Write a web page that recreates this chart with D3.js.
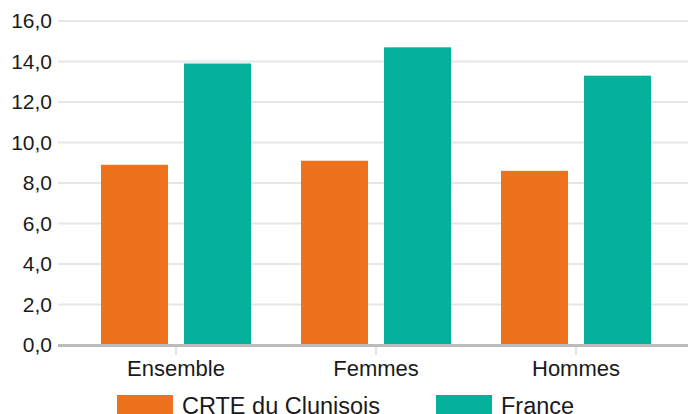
<!DOCTYPE html>
<html>
<head>
<meta charset="utf-8">
<script src="https://cdn.jsdelivr.net/npm/d3@7"></script>
<style>
  body { margin: 0; background: #fff; }
  svg text { font-family: "Liberation Sans", Arial, Helvetica, sans-serif; fill: #1a1a1a; }
</style>
</head>
<body>
<div id="chart"></div>
<script>
// data
var categories = ["Ensemble", "Femmes", "Hommes"];
var seriesNames = ["CRTE du Clunisois", "France"];
var crteValues = [8.9, 9.1, 8.6];
var franceValues = [13.9, 14.7, 13.3];
var yTicks = [0, 2, 4, 6, 8, 10, 12, 14, 16];

var colors = ["#ee721e", "#05b09d"];

var W = 688, H = 414;
var margin = {left: 58, top: 21, right: 0, bottom: 69};

var svg = d3.select("#chart").append("svg")
  .attr("width", W).attr("height", H);

var y = d3.scaleLinear().domain([0, 16]).range([345, 21]);

var x = d3.scaleBand().domain(categories).range([76, 676]);
var xInner = d3.scaleBand().domain(seriesNames)
  .range([25, 175]).paddingInner(0.193);

var fmt = function(v) { return d3.format(".1f")(v).replace(".", ","); };

// grid
svg.append("g").selectAll("line")
  .data(yTicks.filter(function(d) { return d > 0; }))
  .enter().append("line")
  .attr("x1", margin.left).attr("x2", W)
  .attr("y1", function(d) { return y(d); })
  .attr("y2", function(d) { return y(d); })
  .attr("stroke", "#e6e6e6")
  .attr("stroke-width", 2);

// y labels
svg.append("g").selectAll("text")
  .data(yTicks)
  .enter().append("text")
  .attr("x", 52)
  .attr("y", function(d) { return y(d); })
  .attr("dy", "0.35em")
  .attr("text-anchor", "end")
  .style("font-size", "21px")
  .text(fmt);

// bars
var rows = categories.map(function(c, i) {
  return {cat: c, vals: [crteValues[i], franceValues[i]]};
});

var groups = svg.append("g").selectAll("g")
  .data(rows)
  .enter().append("g")
  .attr("transform", function(d) { return "translate(" + x(d.cat) + ",0)"; });

groups.selectAll("rect")
  .data(function(d) { return d.vals.map(function(v, j) { return {name: seriesNames[j], v: v, j: j}; }); })
  .enter().append("rect")
  .attr("x", function(d) { return xInner(d.name); })
  .attr("width", xInner.bandwidth())
  .attr("y", function(d) { return y(d.v); })
  .attr("height", function(d) { return y(0) - y(d.v); })
  .attr("fill", function(d) { return colors[d.j]; });

// baseline
svg.append("line")
  .attr("x1", margin.left).attr("x2", W)
  .attr("y1", y(0) + 0.5).attr("y2", y(0) + 0.5)
  .attr("stroke", "#bbbbbb")
  .attr("stroke-width", 3);

// x ticks + labels
var xg = svg.append("g").selectAll("g")
  .data(categories)
  .enter().append("g")
  .attr("transform", function(d) { return "translate(" + (x(d) + x.bandwidth() / 2) + ",0)"; });

xg.append("line")
  .attr("y1", 347).attr("y2", 355)
  .attr("stroke", "#dddddd")
  .attr("stroke-width", 1.5);

xg.append("text")
  .attr("y", 376)
  .attr("text-anchor", "middle")
  .style("font-size", "22px")
  .text(function(d) { return d; });

// legend
var legendX = [117, 436];
var leg = svg.append("g").selectAll("g")
  .data(seriesNames)
  .enter().append("g")
  .attr("transform", function(d, i) { return "translate(" + legendX[i] + ",395)"; });

leg.append("rect")
  .attr("width", 56).attr("height", 20)
  .attr("fill", function(d, i) { return colors[i]; });

leg.append("text")
  .attr("x", 65)
  .attr("y", 19)
  .style("font-size", "23.5px")
  .text(function(d) { return d; });
</script>
</body>
</html>
